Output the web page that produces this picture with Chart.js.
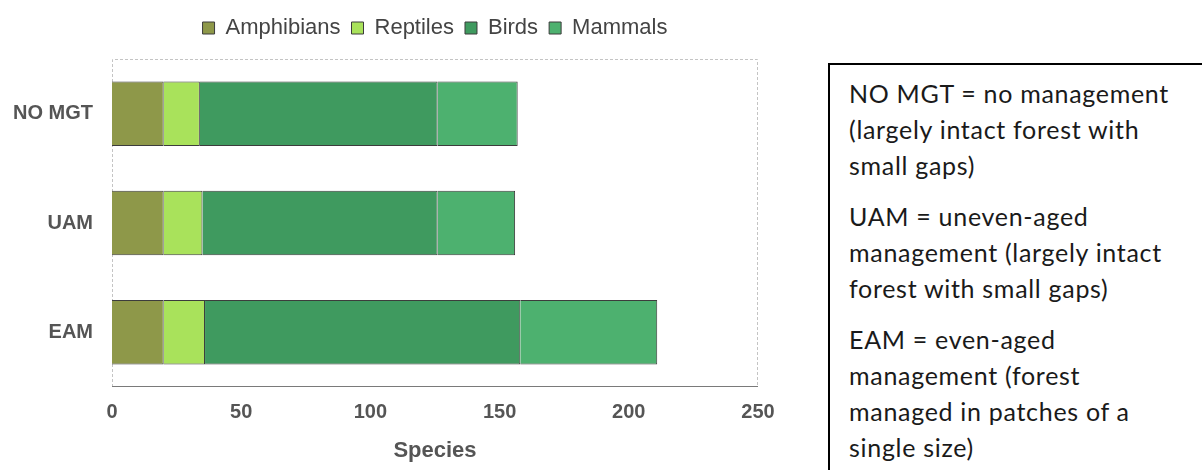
<!DOCTYPE html>
<html>
<head>
<meta charset="utf-8">
<script src="https://cdn.jsdelivr.net/npm/chart.js@4.4.0/dist/chart.umd.min.js"></script>
<style>
  html, body { margin: 0; padding: 0; background: #fff; width: 1202px; height: 470px; overflow: hidden; }
  #wrap { position: absolute; left: 0; top: 0; width: 800px; height: 470px; }
  #note {
    position: absolute; left: 828px; top: 63px; width: 420px; height: 460px;
    border: 2px solid #000; box-sizing: border-box;
    padding: 10px 0 0 19px;
    font-family: Lato, 'Open Sans', sans-serif; font-size: 25px; letter-spacing: 0.7px; color: #1a1a1a;
    line-height: 36px;
  }
  #note .p { margin-bottom: 15px; }
  #note .l { white-space: nowrap; }
</style>
</head>
<body>
<div id="wrap"><canvas id="c"></canvas></div>
<div id="note">
  <div class="p">
    <div class="l">NO MGT = no management</div>
    <div class="l">(largely intact forest with</div>
    <div class="l">small gaps)</div>
  </div>
  <div class="p">
    <div class="l">UAM = uneven-aged</div>
    <div class="l">management (largely intact</div>
    <div class="l">forest with small gaps)</div>
  </div>
  <div class="p">
    <div class="l">EAM = even-aged</div>
    <div class="l">management (forest</div>
    <div class="l">managed in patches of a</div>
    <div class="l">single size)</div>
  </div>
</div>
<script>
const categories = ['NO MGT', 'UAM', 'EAM'];
const amphibians = [20, 20, 20];
const reptiles   = [14, 15, 16];
const birds      = [92, 91, 122];
const mammals    = [31, 30, 53];
const xTicks     = [0, 50, 100, 150, 200, 250];
const axisTitle  = 'Species';

const axisFont = "'Liberation Sans', Arial, sans-serif";

const framePlugin = {
  id: 'frame',
  afterInit(chart) {
    const lg = chart.legend;
    if (lg && !lg._extraFit) {
      const f = lg.fit;
      lg.fit = function () { f.call(this); this.height += 10; };
      lg._extraFit = true;
    }
  },
  beforeDatasetsDraw(chart) {
    const a = chart.chartArea;
    const ctx = chart.ctx;
    ctx.save();
    ctx.lineWidth = 1;
    ctx.strokeStyle = '#c4c4c4';
    ctx.setLineDash([3, 2]);
    ctx.beginPath();
    ctx.moveTo(a.left + 0.5, a.bottom);
    ctx.lineTo(a.left + 0.5, a.top + 0.5);
    ctx.lineTo(a.right - 0.5, a.top + 0.5);
    ctx.lineTo(a.right - 0.5, a.bottom);
    ctx.stroke();
    ctx.setLineDash([]);
    ctx.strokeStyle = '#7a7a7a';
    ctx.beginPath();
    ctx.moveTo(a.left, a.bottom - 0.5);
    ctx.lineTo(a.right, a.bottom - 0.5);
    ctx.stroke();
    ctx.restore();
  }
};

const border = '#3c3c3c';
new Chart(document.getElementById('c'), {
  type: 'bar',
  data: {
    labels: categories,
    datasets: [
      { label: 'Amphibians', data: amphibians, backgroundColor: '#8e9849', borderColor: border, borderWidth: 1 },
      { label: 'Reptiles',   data: reptiles,   backgroundColor: '#a9e25b', borderColor: border, borderWidth: 1 },
      { label: 'Birds',      data: birds,      backgroundColor: '#3f9a5f', borderColor: border, borderWidth: 1 },
      { label: 'Mammals',    data: mammals,    backgroundColor: '#4db16f', borderColor: border, borderWidth: 1 }
    ]
  },
  options: {
    indexAxis: 'y',
    responsive: true,
    maintainAspectRatio: false,
    animation: false,
    barPercentage: 0.59,
    categoryPercentage: 1,
    layout: { padding: { left: 0, right: 42, top: 6, bottom: 0 } },
    plugins: {
      tooltip: { enabled: false },
      legend: {
        position: 'top',
        fullSize: false,
        labels: {
          boxWidth: 12, boxHeight: 12, padding: 11,
          color: '#444',
          font: { family: "'Liberation Sans', Arial, sans-serif", size: 22 }
        }
      }
    },
    scales: {
      x: {
        stacked: true, min: 0, max: 250,
        afterBuildTicks(s) { s.ticks = xTicks.map(v => ({ value: v })); },
        grid: { display: false, drawTicks: false },
        border: { display: false },
        ticks: { padding: 13, color: '#555', font: { family: axisFont, size: 20, weight: 'bold' } },
        title: { display: true, text: axisTitle, color: '#555', padding: { top: 4, bottom: 6 },
                 font: { family: axisFont, size: 22, weight: 'bold' } },
        afterFit(s) { s.height = 83; }
      },
      y: {
        stacked: true,
        grid: { display: false, drawTicks: false },
        border: { display: false },
        ticks: { padding: 19, color: '#555', font: { family: axisFont, size: 20, weight: 'bold' } },
        afterFit(s) { s.width = 112; }
      }
    }
  },
  plugins: [framePlugin]
});
</script>
</body>
</html>
